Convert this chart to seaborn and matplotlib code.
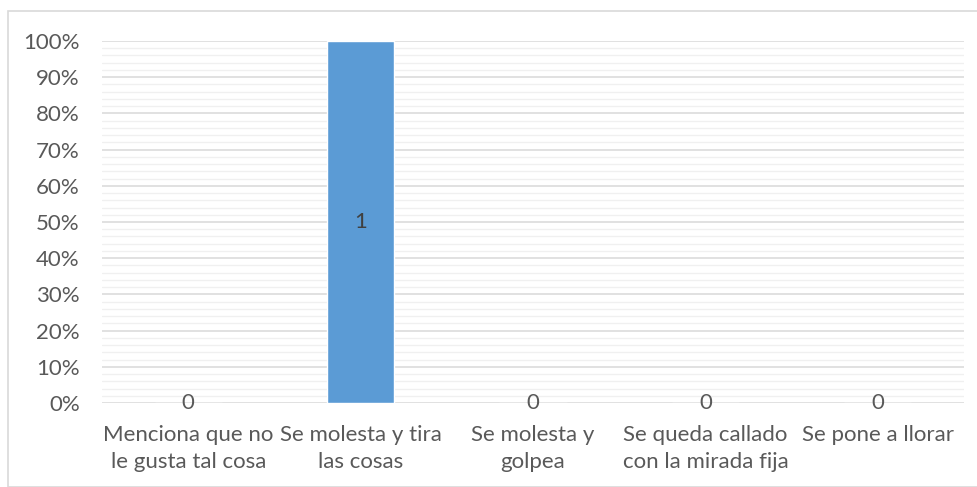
import numpy as np
import pandas as pd
import matplotlib
matplotlib.use("Agg")
import matplotlib.pyplot as plt
from matplotlib.ticker import MultipleLocator, PercentFormatter
import seaborn as sns

categories = [
    "Menciona que no\nle gusta tal cosa",
    "Se molesta y tira\nlas cosas",
    "Se molesta y\ngolpea",
    "Se queda callado\ncon la mirada fija",
    "Se pone a llorar",
]
shares = [0, 1, 0, 0, 0]
counts = [0, 1, 0, 0, 0]

df = pd.DataFrame({"categoria": categories, "valor": shares})

sns.set_theme(style="white")
plt.rcParams["font.family"] = ["Lato", "DejaVu Sans"]

TEXT = "#595959"
FS = 16
fig = plt.figure(figsize=(9.78, 4.87), dpi=100)
ax = fig.add_axes([102 / 978, 1 - 403 / 487, (964 - 102) / 978, (403 - 41) / 487])

sns.barplot(data=df, x="categoria", y="valor", color="#5B9BD5", width=0.39,
            saturation=1, ax=ax, zorder=3)

ax.set_ylim(0, 1)
ax.set_xlim(-0.5, len(categories) - 0.5)
ax.yaxis.set_major_locator(MultipleLocator(0.1))
ax.yaxis.set_minor_locator(MultipleLocator(0.02))
ax.yaxis.set_major_formatter(PercentFormatter(1.0, decimals=0))
ax.grid(which="major", axis="y", color="#d9d9d9", lw=1.1, zorder=0)
ax.grid(which="minor", axis="y", color="#f0f0f0", lw=1.0, zorder=0)
ax.set_axisbelow(True)
for s in ax.spines.values():
    s.set_visible(False)
ax.tick_params(axis="both", which="both", length=0, colors=TEXT, labelsize=FS)
ax.tick_params(axis="x", pad=16)
ax.tick_params(axis="y", pad=16)
for lab in ax.get_xticklabels():
    lab.set_linespacing(1.42)
ax.set_xlabel("")
ax.set_ylabel("")

for i, (v, c) in enumerate(zip(shares, counts)):
    ax.text(i, v / 2, str(c), ha="center", va="center", color="#404040" if v else TEXT,
            fontsize=FS, zorder=4)

fig.patches.append(plt.Rectangle((8 / 978, 0), 1 - 8 / 978, 1 - 11 / 487,
                                 transform=fig.transFigure, fill=False,
                                 edgecolor="#d9d9d9", lw=1.2))

fig.savefig("out.png", dpi=100)
